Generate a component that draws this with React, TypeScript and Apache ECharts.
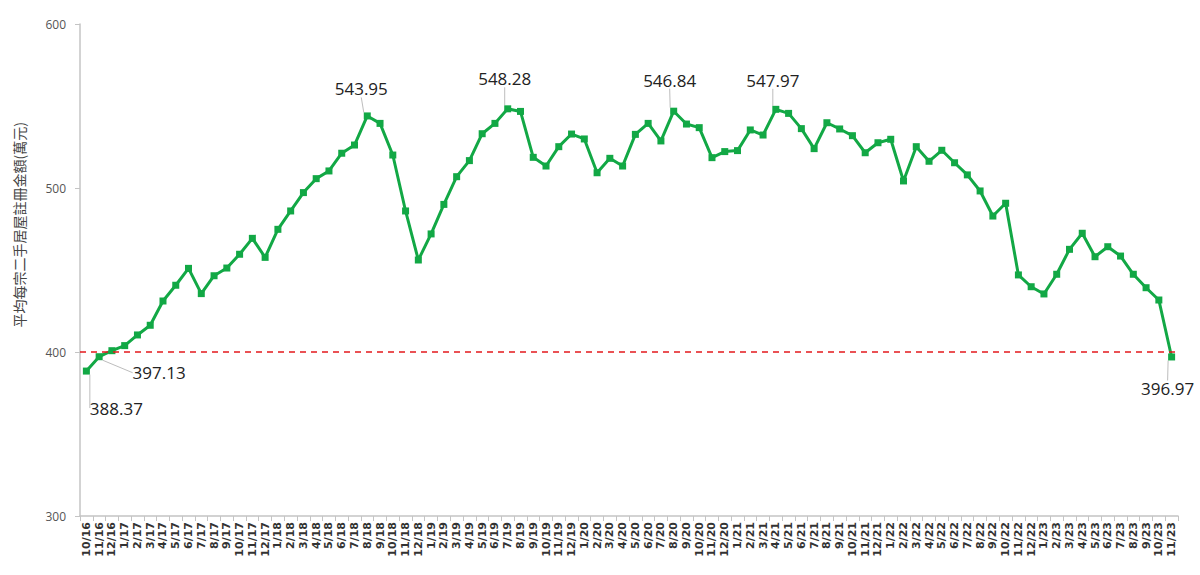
import React, { useEffect, useRef } from "react";
import * as echarts from "echarts";

const months: string[] = [
  "10/16", "11/16", "12/16",
  "1/17", "2/17", "3/17", "4/17", "5/17", "6/17", "7/17", "8/17", "9/17", "10/17", "11/17", "12/17",
  "1/18", "2/18", "3/18", "4/18", "5/18", "6/18", "7/18", "8/18", "9/18", "10/18", "11/18", "12/18",
  "1/19", "2/19", "3/19", "4/19", "5/19", "6/19", "7/19", "8/19", "9/19", "10/19", "11/19", "12/19",
  "1/20", "2/20", "3/20", "4/20", "5/20", "6/20", "7/20", "8/20", "9/20", "10/20", "11/20", "12/20",
  "1/21", "2/21", "3/21", "4/21", "5/21", "6/21", "7/21", "8/21", "9/21", "10/21", "11/21", "12/21",
  "1/22", "2/22", "3/22", "4/22", "5/22", "6/22", "7/22", "8/22", "9/22", "10/22", "11/22", "12/22",
  "1/23", "2/23", "3/23", "4/23", "5/23", "6/23", "7/23", "8/23", "9/23", "10/23", "11/23",
];

const avgPrice: number[] = [
  388.37, 397.13, 400.8,
  403.9, 410.4, 416.3, 431.1, 440.7, 451.0, 435.6, 446.5, 451.2, 459.6, 469.3, 457.7,
  474.8, 486.0, 497.2, 505.7, 510.4, 521.2, 526.2, 543.95, 539.4, 520.1, 486.0, 456.1,
  472.0, 490.0, 506.9, 516.7, 533.1, 539.4, 548.28, 546.7, 518.7, 513.4, 525.2, 532.9,
  529.9, 509.3, 518.1, 513.4, 532.7, 539.4, 528.7, 546.84, 539.0, 536.8, 518.5, 522.2,
  522.8, 535.4, 532.3, 547.97, 545.5, 536.2, 524.0, 539.8, 536.0, 531.9, 521.5, 527.6,
  529.7, 504.3, 525.2, 516.3, 523.0, 515.4, 508.0, 498.2, 482.9, 490.7, 447.0, 439.8,
  435.4, 447.4, 462.6, 472.4, 458.1, 464.2, 458.5, 447.4, 439.2, 431.7, 396.97,
];

// indices of labelled points and their label shifts
const labelShift: Record<number, [number, number]> = {
  0: [30, 54],
  1: [60, 33],
  22: [-6, -10],
  33: [-3, -13],
  46: [-4, -14],
  54: [-3, -12],
  85: [-4, 49],
};

const thresholdValue = 400;
const yTitle = "平均每宗二手居屋註冊金額(萬元)";

export default function App() {
  const ref = useRef<HTMLDivElement>(null);
  useEffect(() => {
    if (!ref.current) return;
    const chart = echarts.init(ref.current, undefined, { renderer: "svg" });
    const data = avgPrice.map((v, i) =>
      labelShift[i]
        ? {
            value: v,
            label: {
              show: true,
              position: "top",
              formatter: v.toFixed(2),
              fontSize: 17,
              color: "#222",
              fontFamily: "Open Sans",
            },
          }
        : v
    );
    chart.setOption({
      animation: false,
      grid: { left: 80, right: 22, top: 24, bottom: 59, containLabel: false },
      graphic: [
        {
          type: "text",
          left: 12,
          top: 122,
          rotation: Math.PI / 2,
          style: {
            text: yTitle,
            fontSize: 14,
            fill: "#444",
            fontFamily: "Noto Sans CJK TC",
          },
        },
      ],
      xAxis: {
        type: "category",
        data: months,
        boundaryGap: true,
        axisLine: { lineStyle: { color: "#c4c4c4", width: 1.5 } },
        axisTick: { show: true, length: 5, lineStyle: { color: "#c4c4c4" } },
        axisLabel: {
          interval: 0,
          rotate: 90,
          fontSize: 11,
          color: "#333",
          fontFamily: "DejaVu Sans",
          fontWeight: "bold",
          margin: 6,
        },
      },
      yAxis: {
        type: "value",
        min: 300,
        max: 600,
        interval: 100,
        axisLine: { show: true, lineStyle: { color: "#c4c4c4", width: 1.5 } },
        axisTick: { show: true, length: 5, lineStyle: { color: "#c4c4c4" } },
        splitLine: { show: false },
        axisLabel: {
          fontSize: 12,
          color: "#555",
          fontFamily: "Open Sans",
          margin: 14,
        },
      },
      series: [
        {
          type: "line",
          data,
          symbol: "rect",
          symbolSize: 7,
          itemStyle: { color: "#12a845" },
          lineStyle: { color: "#12a845", width: 3 },
          labelLine: { show: true, lineStyle: { color: "#bdbdbd", width: 1 } },
          labelLayout: (params: any) => {
            const s = labelShift[params.dataIndex];
            if (!s) return {};
            return { dx: s[0], dy: s[1] };
          },
          markLine: {
            silent: true,
            symbol: ["none", "none"],
            label: { show: false },
            lineStyle: { color: "#e3191c", type: [6, 5], width: 1.5 },
            data: [{ yAxis: thresholdValue }],
          },
          z: 3,
        },
      ],
    });
    return () => chart.dispose();
  }, []);
  return (
    <div
      ref={ref}
      style={{ position: "fixed", left: 0, top: 0, width: 1200, height: 575, background: "#fff" }}
    />
  );
}
